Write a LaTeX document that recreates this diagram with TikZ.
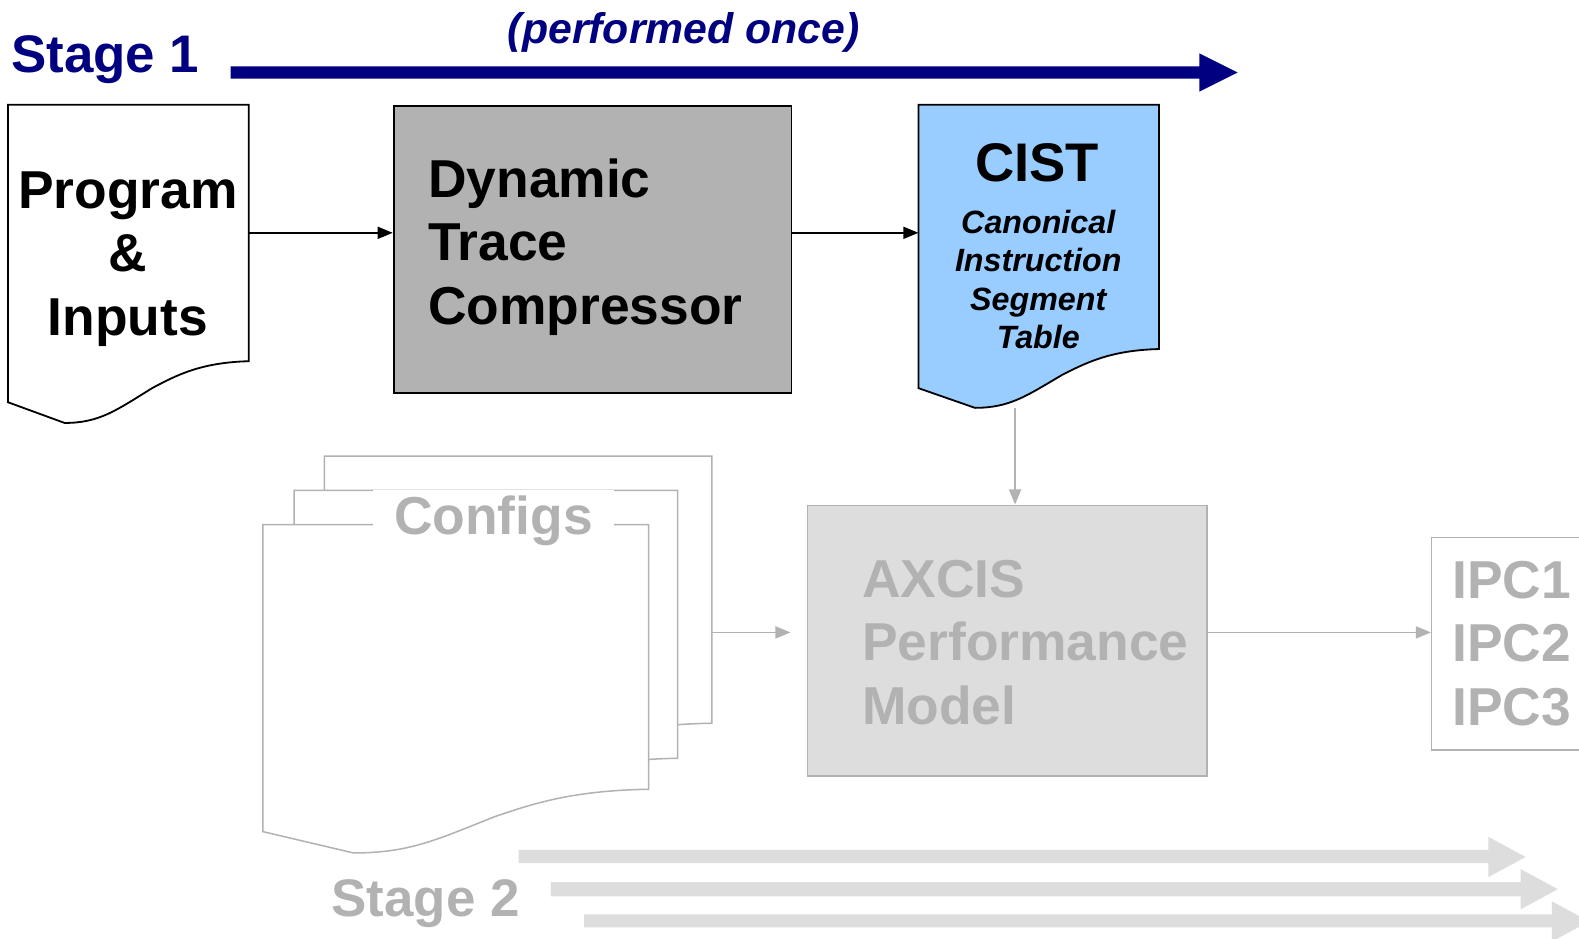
\documentclass[tikz,border=0pt]{standalone}
\usepackage{fontspec}
\setmainfont{Liberation Sans}
\usetikzlibrary{arrows.meta}

\definecolor{navyblue}{HTML}{000080}
\definecolor{greytext}{HTML}{B2B2B2}
\definecolor{greyline}{HTML}{B2B2B2}
\definecolor{darkfill}{HTML}{B2B2B2}
\definecolor{lightfill}{HTML}{DDDDDD}
\definecolor{cistblue}{HTML}{99CCFF}

% Flowchart "document" outline: style, left, top, width, height
\newcommand\docoutline[5]{%
  \path[#1, shift={(#2,#3)}, x=#4pt, y=-#5pt]
    (0,0) -- (1,0) -- (1,0.806)
    .. controls (0.8,0.81) and (0.7,0.85) .. (0.6,0.89)
    .. controls (0.45,0.96) and (0.38,1) .. (0.235,1)
    -- (0,0.935) -- cycle;}

% multi-line labels are placed by the baseline of their last line
\tikzset{
  anchorbox/.style={inner sep=0pt, minimum width=#1, anchor=north west},
  bigtext/.style={font=\bfseries\fontsize{53}{63}\selectfont, inner sep=0pt},
  stagetext/.style={font=\bfseries\fontsize{52.5}{60}\selectfont, inner sep=0pt, anchor=base west},
  smalltext/.style={font=\bfseries\itshape\fontsize{32}{38}\selectfont, inner sep=0pt},
  blackflow/.style={line width=1.6pt, -{Triangle[length=15pt,width=12pt]}},
  greyflow/.style={draw=greyline, line width=1.4pt, -{Triangle[length=15pt,width=12pt]}},
  doclineblack/.style={draw=black, line width=1.8pt},
  doclinegrey/.style={draw=greyline, fill=white, line width=1.5pt},
}

\begin{document}
\begin{tikzpicture}[x=1pt, y=-1pt]
\clip (0,0) rectangle (1568,932);
\fill[white] (0,0) rectangle (1568,932);

% ---------------- Stage 1 ----------------
\node[stagetext, text=navyblue] (stageone) at (11,72) {Stage 1};
\node[anchor=base, text=navyblue, font=\bfseries\itshape\fontsize{42.5}{48}\selectfont, inner sep=0pt]
  (once) at (679,43) {(performed once)};
\fill[navyblue] (229,66) -- (1191,66) -- (1191,53) -- (1229,72) -- (1191,91) -- (1191,78) -- (229,78) -- cycle;

% Program & Inputs
\docoutline{doclineblack, fill=white}{8}{104}{239}{316}
\node[anchorbox=239, minimum height=254] (prog) at (8,104) {};
\node[bigtext, align=center, anchor=base] (progtext) at (127,333) {Program\\\&\\Inputs};

% Dynamic Trace Compressor
\node[anchorbox=395, minimum height=285, draw=black, fill=darkfill, line width=1.8pt]
  (dtc) at (390,104) {};
\node[bigtext, align=left, anchor=base west] (dtctext) at (425,322) {Dynamic\\Trace\\Compressor};

% CIST
\docoutline{doclineblack, fill=cistblue}{912}{104}{239}{301}
\node[anchorbox=239, minimum height=243] (cist) at (912,104) {};
\node[font=\bfseries\fontsize{54}{60}\selectfont, inner sep=0pt, anchor=base]
  (cisttitle) at (1030,180) {CIST};
\node[smalltext, align=center, anchor=base] (cistsub) at (1031,346)
  {Canonical\\Instruction\\Segment\\Table};

\draw[blackflow] (prog.east) -- (prog.east -| dtc.west);
\draw[blackflow] (dtc.east |- prog.east) -- (cist.west |- prog.east);

% ---------------- Stage 2 ----------------
\docoutline{doclinegrey}{322}{453}{385}{329}
\node[anchorbox=385, minimum height=265] (cfgback) at (322,453) {};
\docoutline{doclinegrey}{292}{487}{381}{330}
\node[anchorbox=381, minimum height=266] (cfgmid) at (292,487) {};
\docoutline{doclinegrey}{261}{521}{383}{326}
\node[anchorbox=383, minimum height=263] (cfgfront) at (261,521) {};
\node[bigtext, text=greytext, fill=white, inner xsep=21pt, inner ysep=6pt, anchor=base]
  (cfgtext) at (490,531) {Configs};

\node[anchorbox=397, minimum height=269, draw=greyline, fill=lightfill, line width=1.5pt]
  (axcis) at (801,501) {};
\node[bigtext, text=greytext, align=left, anchor=base west] (axcistext) at (856,719)
  {AXCIS\\Performance\\Model};

\node[anchorbox=200, minimum height=211, draw=greyline, fill=white, line width=1.5pt]
  (ipc) at (1421,533) {};
\node[bigtext, text=greytext, align=left, anchor=base west] (ipctext) at (1442,720)
  {IPC1\\IPC2\\IPC3};

\coordinate (lvl) at (0,628);
\coordinate (cfgout) at (cfgback.east |- lvl);
\coordinate (cistout) at (1008,405);
\draw[greyflow] (cistout) -- (cistout |- axcis.north);
\draw[greyflow, shorten >=16pt] (cfgout) -- (cfgout -| axcis.west);
\draw[greyflow] (axcis.east |- lvl) -- (ipc.west |- lvl);

\node[stagetext, text=greytext] (stagetwo) at (329,910) {Stage 2};
\fill[lightfill] (515,844) -- (1478,844) -- (1478,831) -- (1515,851) -- (1478,871) -- (1478,857) -- (515,857) -- cycle;
\fill[lightfill] (547,876) -- (1510,876) -- (1510,863) -- (1547,883) -- (1510,903) -- (1510,890) -- (547,890) -- cycle;
\fill[lightfill] (580,908) -- (1541,908) -- (1541,895) -- (1578,915) -- (1541,935) -- (1541,921) -- (580,921) -- cycle;
\end{tikzpicture}
\end{document}
